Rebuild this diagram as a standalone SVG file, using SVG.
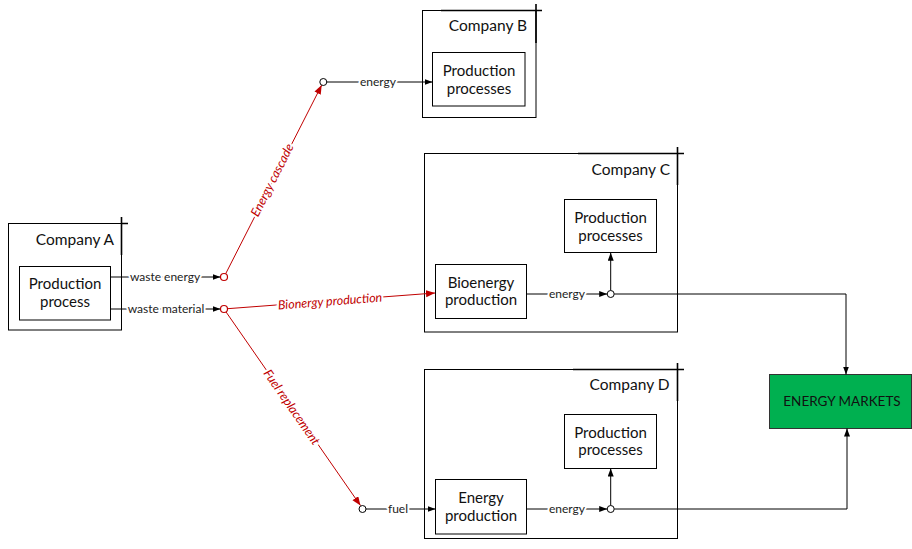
<svg xmlns="http://www.w3.org/2000/svg" width="912" height="549" viewBox="0 0 912 549">
<style>
.c{fill:none;stroke:#000;stroke-width:1}
.tb{fill:none;stroke:#000;stroke-width:1.6}
.bx{fill:#fff;stroke:#000;stroke-width:1}
.t{font-family:Lato,"Liberation Sans",sans-serif;font-size:15px;fill:#111}
.title{text-anchor:end;font-size:15.5px}
.m{text-anchor:middle}
.l{font-family:Lato,"Liberation Sans",sans-serif;font-size:12px;fill:#222;text-anchor:middle;stroke:#fff;stroke-width:4;paint-order:stroke}
.r{font-family:Lato,"Liberation Sans",sans-serif;font-size:12.5px;font-style:italic;fill:#C00000;text-anchor:middle;dominant-baseline:central;stroke:#fff;stroke-width:4;paint-order:stroke}
.k{fill:none;stroke:#000;stroke-width:1}
.rd{fill:none;stroke:#C00000;stroke-width:1}
.dot{fill:#fff;stroke:#000;stroke-width:1}
.rdot{fill:#fff;stroke:#C00000;stroke-width:1.2}
</style>
<defs>
<marker id="ab" markerUnits="userSpaceOnUse" markerWidth="9" markerHeight="7" refX="8" refY="3" orient="auto"><path d="M0,0 L8,3 L0,6 z" fill="#000"/></marker>
<marker id="ar" markerUnits="userSpaceOnUse" markerWidth="10" markerHeight="8" refX="9" refY="3.5" orient="auto"><path d="M0,0 L9,3.5 L0,7 z" fill="#C00000"/></marker>
</defs>

<g id="companyA">
<rect class="c" x="8.5" y="223.5" width="113" height="106.5"/>
<path class="tb" d="M121.5,223.5 H128 M121.5,217 V255"/>
<text class="t title" x="114" y="245">Company A</text>
</g>
<g id="prodA">
<rect class="bx" x="19.5" y="266.5" width="91" height="53.5"/>
<text class="t m" x="65" y="289">Production</text>
<text class="t m" x="65" y="307">process</text>
</g>

<g id="companyB">
<rect class="c" x="422.5" y="10.5" width="113.5" height="107"/>
<path class="tb" d="M441,10.5 H542 M536,4 V43"/>
<text class="t title" x="527" y="31">Company B</text>
</g>
<g id="prodB">
<rect class="bx" x="432.5" y="52.5" width="92.5" height="53.5"/>
<text class="t m" x="479" y="76">Production</text>
<text class="t m" x="479" y="94">processes</text>
</g>

<g id="companyC">
<rect class="c" x="424.5" y="153.5" width="253" height="178.5"/>
<path class="tb" d="M578,153.5 H684 M677.5,147 V185"/>
<text class="t title" x="670" y="175">Company C</text>
</g>
<g id="prodC">
<rect class="bx" x="564.5" y="199.5" width="92" height="53"/>
<text class="t m" x="610.5" y="223">Production</text>
<text class="t m" x="610.5" y="241">processes</text>
</g>
<g id="bioC">
<rect class="bx" x="435.5" y="264.5" width="91" height="54"/>
<text class="t m" x="481" y="287.5">Bioenergy</text>
<text class="t m" x="481" y="305">production</text>
</g>

<g id="companyD">
<rect class="c" x="424.5" y="369.5" width="253" height="169"/>
<path class="tb" d="M573,369.5 H684 M677.5,363 V401"/>
<text class="t title" x="669.5" y="389.5">Company D</text>
</g>
<g id="prodD">
<rect class="bx" x="564.5" y="414.5" width="92" height="54"/>
<text class="t m" x="610.5" y="437.5">Production</text>
<text class="t m" x="610.5" y="455">processes</text>
</g>
<g id="energyD">
<rect class="bx" x="435.5" y="479.5" width="91" height="54.5"/>
<text class="t m" x="481" y="503">Energy</text>
<text class="t m" x="481" y="521">production</text>
</g>

<g id="markets">
<rect x="769.5" y="374.5" width="142" height="54" fill="#00B050" stroke="#333" stroke-width="1"/>
<text class="t m" x="842" y="406" style="font-size:13.5px">ENERGY MARKETS</text>
</g>

<g id="connectors">
<line class="k" x1="110.5" y1="277" x2="220.5" y2="277" marker-end="url(#ab)"/>
<text class="l" x="165" y="281">waste energy</text>
<line class="k" x1="110.5" y1="309" x2="220.5" y2="309" marker-end="url(#ab)"/>
<text class="l" x="166" y="313">waste material</text>

<line class="rd" x1="225.6" y1="273.9" x2="321.7" y2="85.1" marker-end="url(#ar)"/>
<text class="r" transform="translate(272,180) rotate(-63.2)">Energy cascade</text>
<line class="rd" x1="227.5" y1="308.7" x2="435" y2="293" marker-end="url(#ar)"/>
<text class="r" transform="translate(330,301) rotate(-4.3)">Bionergy production</text>
<line class="rd" x1="226" y1="311.9" x2="360.5" y2="505.6" marker-end="url(#ar)"/>
<text class="r" transform="translate(292,407) rotate(55.2)">Fuel replacement</text>

<line class="k" x1="326.8" y1="82" x2="432.5" y2="82" marker-end="url(#ab)"/>
<text class="l" x="378" y="86">energy</text>
<line class="k" x1="366" y1="509" x2="435.5" y2="509" marker-end="url(#ab)"/>
<text class="l" x="398" y="513">fuel</text>

<line class="k" x1="526.5" y1="294" x2="607.2" y2="294" marker-end="url(#ab)"/>
<text class="l" x="567" y="298">energy</text>
<line class="k" x1="610.7" y1="290.5" x2="610.7" y2="252.7" marker-end="url(#ab)"/>
<polyline class="k" points="614.2,294 846,294 846,374.5" marker-end="url(#ab)"/>

<line class="k" x1="526.5" y1="509" x2="607.2" y2="509" marker-end="url(#ab)"/>
<text class="l" x="567" y="513">energy</text>
<line class="k" x1="610.7" y1="505.5" x2="610.7" y2="468.5" marker-end="url(#ab)"/>
<polyline class="k" points="614.2,509 847,509 847,428.5" marker-end="url(#ab)"/>

<circle class="rdot" cx="224" cy="277" r="3.5"/>
<circle class="rdot" cx="224" cy="309" r="3.5"/>
<circle class="dot" cx="323.3" cy="82" r="3.5"/>
<circle class="dot" cx="362.5" cy="509" r="3.5"/>
<circle class="dot" cx="610.7" cy="294" r="3.5"/>
<circle class="dot" cx="610.7" cy="509" r="3.5"/>
</g>
</svg>
